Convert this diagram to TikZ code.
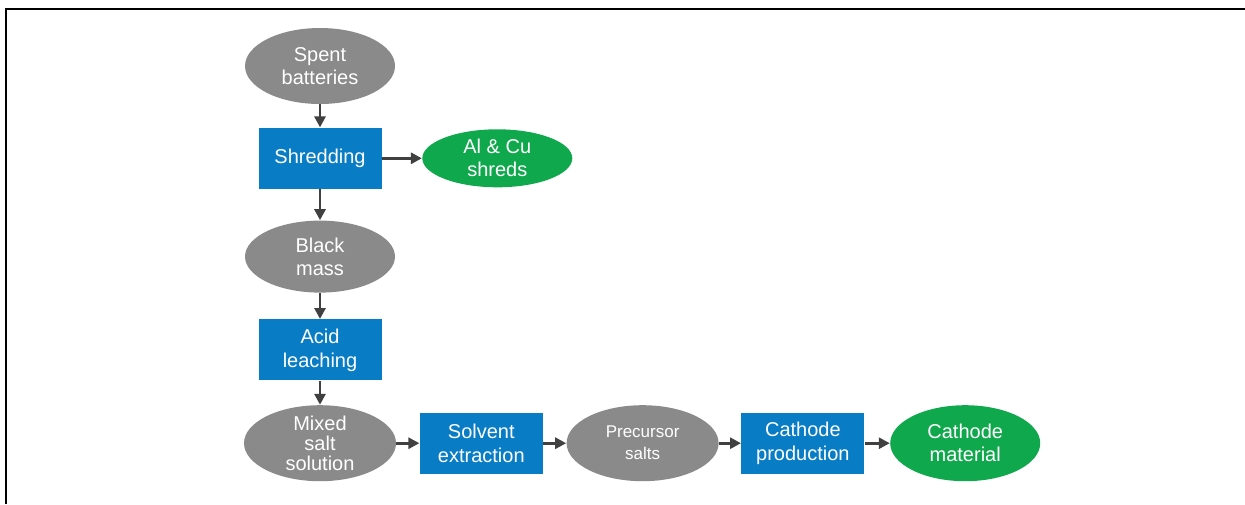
\documentclass[tikz,border=0pt]{standalone}
\usepackage{fontspec}
\setmainfont{Liberation Sans}
\usetikzlibrary{arrows.meta,positioning,shapes.geometric}
\definecolor{procblue}{RGB}{8,124,196}
\definecolor{matgray}{RGB}{138,138,138}
\definecolor{prodgreen}{RGB}{16,168,76}
\definecolor{arrowgray}{RGB}{64,64,64}

\begin{document}
\begin{tikzpicture}[x=1pt,y=1pt,node distance=11.5pt and 11.5pt,
  proc/.style={rectangle,fill=procblue,text=white,align=center,inner sep=0pt,
               minimum width=61.5pt,minimum height=30.5pt,
               font=\fontsize{10}{12}\selectfont},
  mat/.style={ellipse,fill=matgray,text=white,align=center,inner sep=0pt,
              minimum width=75pt,minimum height=38pt,
              font=\fontsize{10}{11.5}\selectfont},
  prod/.style={mat,fill=prodgreen},
  flow/.style={-{Triangle[length=5.5pt,width=5.5pt]},line width=1.4pt,draw=arrowgray}]
\useasboundingbox (0,0) rectangle (622.5,-252);
\draw[line width=1.2pt] (3,-252) -- (3,-4.5) -- (622.5,-4.5);

% recycling column
\node[mat] (spent) at (160,-33) {Spent\\batteries};
\node[proc,below=11.5pt of spent] (shred) {Shredding};
\node[prod,minimum height=29pt,inner ysep=-1pt,right=20pt of shred] (shreds) {Al \& Cu\\shreds};
\node[mat,minimum height=36pt,below=15.5pt of shred] (black) {Black\\mass};
\node[proc,below=13pt of black] (leach) {Acid\\leaching};
\node[mat,minimum width=76pt,inner ysep=-2pt,below=12pt of leach,
      font=\fontsize{10}{10}\selectfont] (mixed) {Mixed\\salt\\solution};
% refining row
\node[proc,right=of mixed] (solvent) {Solvent\\extraction};
\node[mat,minimum width=76pt,right=of solvent,
      font=\fontsize{8.5}{11}\selectfont] (precursor) {Precursor\\salts};
\node[proc,right=11pt of precursor] (cathprod) {Cathode\\production};
\node[prod,right=12.5pt of cathprod] (cathmat) {Cathode\\material};

\draw[flow] (spent) -- (shred);
\draw[flow] (shred) -- (shreds);
\draw[flow] (shred) -- (black);
\draw[flow] (black) -- (leach);
\draw[flow] (leach) -- (mixed);
\draw[flow] (mixed) -- (solvent);
\draw[flow] (solvent) -- (precursor);
\draw[flow] (precursor) -- (cathprod);
\draw[flow] (cathprod) -- (cathmat);
\end{tikzpicture}
\end{document}
